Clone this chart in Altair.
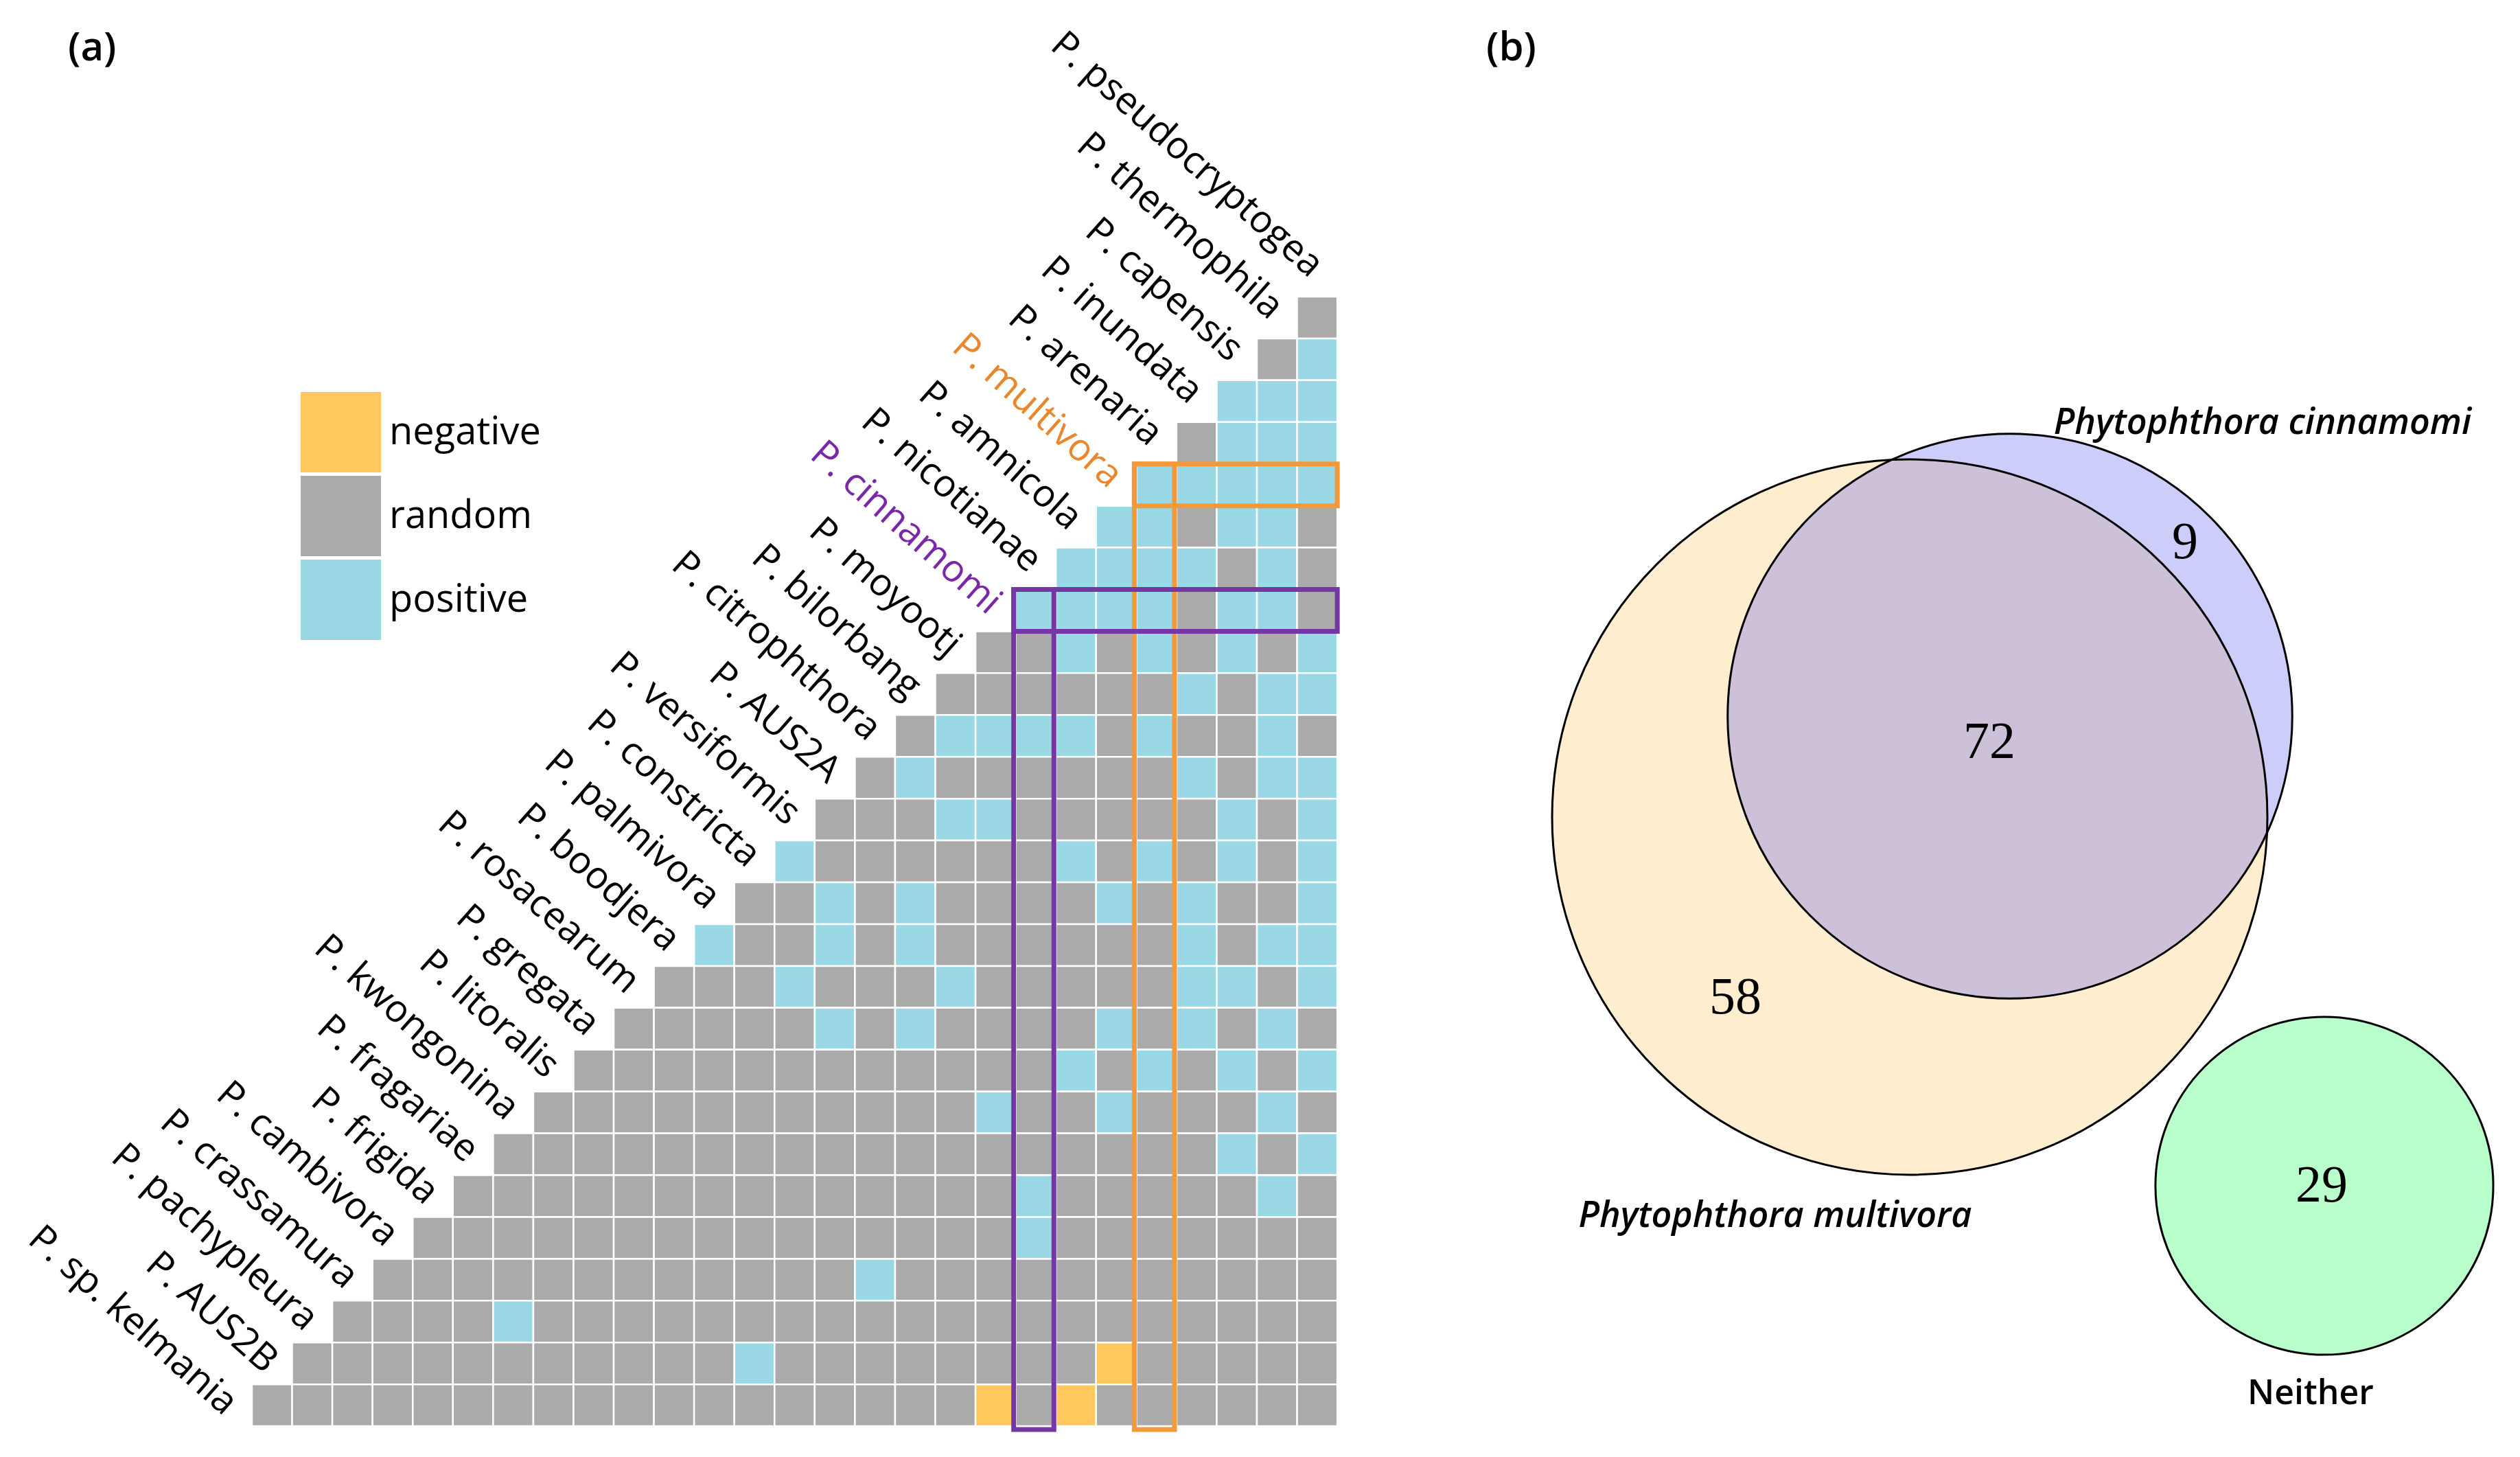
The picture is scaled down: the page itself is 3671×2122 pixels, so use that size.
import altair as alt
import pandas as pd

# ---------------- data ----------------
SPECIES = [
    "P. pseudocryptogea", "P. thermophila", "P. capensis", "P. inundata", "P. arenaria",
    "P. multivora", "P. amnicola", "P. nicotianae", "P. cinnamomi", "P. moyootj",
    "P. bilorbang", "P. citrophthora", "P. AUS2A", "P. versiformis", "P. constricta",
    "P. palmivora", "P. boodjera", "P. rosacearum", "P. gregata", "P. litoralis",
    "P. kwongonina", "P. fragariae", "P. frigida", "P. cambivora", "P. crassamura",
    "P. pachypleura", "P. AUS2B", "P. sp. kelmania",
]

# one string per matrix row (top to bottom); n = negative, r = random, p = positive
ASSOCIATION_ROWS = [
    "r",
    "rp",
    "ppp",
    "rppp",
    "ppppp",
    "pprppr",
    "pppprpr",
    "pppprppr",
    "rrprprprp",
    "rrrrrrprpp",
    "rpppprprrpr",
    "rprrrrrrprpp",
    "rrrpprrrrrprp",
    "prrrrrrprprprp",
    "rrprprrrrprprrp",
    "prrprprrrrrrprpp",
    "rrrprrrprrrrrpprp",
    "rrrrrprprrrrprprpr",
    "rrrrrrrrrrrrprprprp",
    "rrrrrrrrrrrprrprrrpr",
    "rrrrrrrrrrrrrrrrrrprp",
    "rrrrrrrrrrrrrrprrrrrpr",
    "rrrrrrrrrrrrrrrprrrrrrr",
    "rrrrrrrrrrrrprrrrrrrrrrr",
    "rrrrprrrrrrrrrrrrrrrrrrrr",
    "rrrrrrrrrrrprrrrrrrrnrrrrr",
    "rrrrrrrrrrrrrrrrrrnrnrrrrrr",
]
ASSOC_CODES = {"n": "negative", "r": "random", "p": "positive"}
ASSOC_ORDER = ["negative", "random", "positive"]
ASSOC_COLOURS = ["#FFC85C", "#AAAAAA", "#9AD8E6"]

HIGHLIGHTS = ["P. multivora", "P. cinnamomi"]
HIGHLIGHT_BOX_COLOURS = ["#F4993A", "#7437A3"]
HIGHLIGHT_TEXT_COLOURS = ["#E8872C", "#7A28A8"]

VENN_SETS = ["Phytophthora multivora", "Phytophthora cinnamomi", "Neither"]
VENN_REGIONS = ["multivora only", "both", "cinnamomi only", "neither"]
VENN_COUNTS = [58, 72, 9, 29]

PANEL_LETTERS = ["(a)", "(b)"]

# ---------------- layout constants ----------------
FONT = "Open Sans"
N = len(SPECIES) - 1  # 27 matrix rows / columns
PANEL_A_W, PANEL_B_W, PANEL_H = 2100, 1550, 2100
COL_W, ROW_H = 58.56, 60.93
GRID_LEFT, GRID_TOP = 359, 424           # inside panel (a), pixels
X0 = -GRID_LEFT / COL_W
Y0 = -GRID_TOP / ROW_H
xs = alt.Scale(domain=[X0, X0 + PANEL_A_W / COL_W], nice=False, zero=False)
ys = alt.Scale(domain=[Y0, Y0 + PANEL_H / ROW_H], nice=False, zero=False, reverse=True)

# ---------------- panel (a): association matrix ----------------
cells = []
for r, s in enumerate(ASSOCIATION_ROWS):
    start = N - len(s)
    for j, ch in enumerate(s):
        c = start + j
        cells.append({"row": r, "row2": r + 1, "col": c, "col2": c + 1,
                      "association": ASSOC_CODES[ch]})
cells_df = pd.DataFrame(cells)

cell_layer = alt.Chart(cells_df).mark_rect(stroke="white", strokeWidth=2.5).encode(
    x=alt.X("col:Q", scale=xs, axis=None),
    x2="col2:Q",
    y=alt.Y("row:Q", scale=ys, axis=None),
    y2="row2:Q",
    color=alt.Color(
        "association:N",
        scale=alt.Scale(domain=ASSOC_ORDER, range=ASSOC_COLOURS),
        legend=alt.Legend(
            title=None, orient="none", legendX=430, legendY=563,
            symbolType="square", symbolSize=117 * 117, symbolStrokeWidth=0,
            symbolOpacity=1, rowPadding=5, padding=0, labelOffset=12,
            labelFont=FONT, labelFontSize=56, labelColor="black", labelLimit=0,
        ),
    ),
)

labels_df = pd.DataFrame({"name": SPECIES, "k": list(range(len(SPECIES)))})
labels_df["u"] = 26.31 - 1.0004 * labels_df["k"]
labels_df["v"] = -0.427 + 1.0073 * labels_df["k"]


def label_layer(test, colour):
    return alt.Chart(labels_df).transform_filter(test).mark_text(
        angle=41.5, align="right", baseline="alphabetic",
        font=FONT, fontSize=55, color=colour,
    ).encode(
        x=alt.X("u:Q", scale=xs, axis=None),
        y=alt.Y("v:Q", scale=ys, axis=None),
        text="name:N",
    )


hl_list = "[" + ",".join(f"'{h}'" for h in HIGHLIGHTS) + "]"
label_layers = [label_layer(f"indexof({hl_list}, datum.name) < 0", "black")]
for h, col in zip(HIGHLIGHTS, HIGHLIGHT_TEXT_COLOURS):
    label_layers.append(label_layer(f"datum.name == '{h}'", col))

boxes = []
for h in HIGHLIGHTS:
    idx = SPECIES.index(h)
    r, c = idx - 1, N - idx
    boxes.append({"species": h, "x": c - 0.05, "x2": N, "y": r, "y2": r + 1})
    boxes.append({"species": h, "x": c - 0.05, "x2": c + 0.95, "y": r, "y2": N + 0.08})
boxes_df = pd.DataFrame(boxes)

box_layers = []
for h, col in zip(HIGHLIGHTS, HIGHLIGHT_BOX_COLOURS):
    box_layers.append(
        alt.Chart(boxes_df).transform_filter(f"datum.species == '{h}'").mark_rect(
            fillOpacity=0, stroke=col, strokeWidth=7
        ).encode(
            x=alt.X("x:Q", scale=xs, axis=None), x2="x2:Q",
            y=alt.Y("y:Q", scale=ys, axis=None), y2="y2:Q",
        )
    )

letter_a = alt.Chart(pd.DataFrame({"t": [PANEL_LETTERS[0]]})).mark_text(
    align="left", baseline="middle", font=FONT, fontSize=58, fontWeight=600, color="black"
).encode(x=alt.value(91), y=alt.value(63), text="t:N")

panel_a = alt.layer(cell_layer, *box_layers, *label_layers, letter_a).properties(
    width=PANEL_A_W, height=PANEL_H
)

# ---------------- panel (b): Venn diagram ----------------
set_totals = [VENN_COUNTS[0] + VENN_COUNTS[1], VENN_COUNTS[1] + VENN_COUNTS[2], VENN_COUNTS[3]]
SET_CENTRES = {"Phytophthora multivora": (674, 1182),
               "Phytophthora cinnamomi": (820, 1035),
               "Neither": (1278, 1719)}
SET_LABEL_POS = {"Phytophthora multivora": (478, 1779),
                 "Phytophthora cinnamomi": (1188, 624),
                 "Neither": (1258, 2037)}
REGION_POS = {"multivora only": (420, 1445), "both": (790, 1073),
              "cinnamomi only": (1075, 782), "neither": (1274, 1719)}
MAX_RADIUS = 521

sets_df = pd.DataFrame({
    "set": VENN_SETS,
    "total": set_totals,
    "cx": [SET_CENTRES[s][0] for s in VENN_SETS],
    "cy": [SET_CENTRES[s][1] for s in VENN_SETS],
    "lx": [SET_LABEL_POS[s][0] for s in VENN_SETS],
    "ly": [SET_LABEL_POS[s][1] for s in VENN_SETS],
})
regions_df = pd.DataFrame({
    "region": VENN_REGIONS,
    "count": VENN_COUNTS,
    "x": [REGION_POS[r][0] for r in VENN_REGIONS],
    "y": [REGION_POS[r][1] for r in VENN_REGIONS],
})

xb = alt.Scale(domain=[0, PANEL_B_W], nice=False, zero=False)
yb = alt.Scale(domain=[0, PANEL_H], nice=False, zero=False, reverse=True)
size_scale = alt.Scale(domain=[0, max(set_totals)], range=[0, (2 * MAX_RADIUS) ** 2])

circ_enc = dict(
    x=alt.X("cx:Q", scale=xb, axis=None),
    y=alt.Y("cy:Q", scale=yb, axis=None),
    size=alt.Size("total:Q", scale=size_scale, legend=None),
)

FILLS = {"Phytophthora multivora": ("#FFEDD0", 1.0),
         "Phytophthora cinnamomi": ("#5858EE", 0.3),
         "Neither": ("#B8FFCB", 1.0)}
fill_layers = []
for s in VENN_SETS:
    colr, fo = FILLS[s]
    fill_layers.append(
        alt.Chart(sets_df).transform_filter(f"datum.set == '{s}'").mark_point(
            shape="circle", filled=True, color=colr, opacity=1, fillOpacity=fo, strokeWidth=0
        ).encode(**circ_enc)
    )

outline_layer = alt.Chart(sets_df).mark_point(
    shape="circle", filled=False, color="black", opacity=1, strokeWidth=3
).encode(**circ_enc)

count_layer = alt.Chart(regions_df).mark_text(
    font="Liberation Serif", fontSize=76, align="center", baseline="middle", color="black"
).encode(x=alt.X("x:Q", scale=xb, axis=None), y=alt.Y("y:Q", scale=yb, axis=None),
         text="count:Q")

set_label_italic = alt.Chart(sets_df).transform_filter("datum.set != 'Neither'").mark_text(
    font=FONT, fontSize=52, fontWeight=600, fontStyle="italic", align="center",
    baseline="alphabetic", color="black"
).encode(x=alt.X("lx:Q", scale=xb, axis=None), y=alt.Y("ly:Q", scale=yb, axis=None),
         text="set:N")
set_label_plain = alt.Chart(sets_df).transform_filter("datum.set == 'Neither'").mark_text(
    font=FONT, fontSize=50, fontWeight=600, align="center", baseline="alphabetic", color="black"
).encode(x=alt.X("lx:Q", scale=xb, axis=None), y=alt.Y("ly:Q", scale=yb, axis=None),
         text="set:N")

letter_b = alt.Chart(pd.DataFrame({"t": [PANEL_LETTERS[1]]})).mark_text(
    align="left", baseline="middle", font=FONT, fontSize=58, fontWeight=600, color="black"
).encode(x=alt.value(57), y=alt.value(63), text="t:N")

panel_b = alt.layer(*fill_layers, outline_layer, count_layer, set_label_italic,
                    set_label_plain, letter_b).properties(width=PANEL_B_W, height=PANEL_H)

chart = alt.hconcat(panel_a, panel_b, spacing=0).properties(
    padding=0, background="white"
).configure_view(strokeWidth=0, stroke="transparent")

chart.save("out.html", embed_options={"renderer": "svg", "actions": False})
